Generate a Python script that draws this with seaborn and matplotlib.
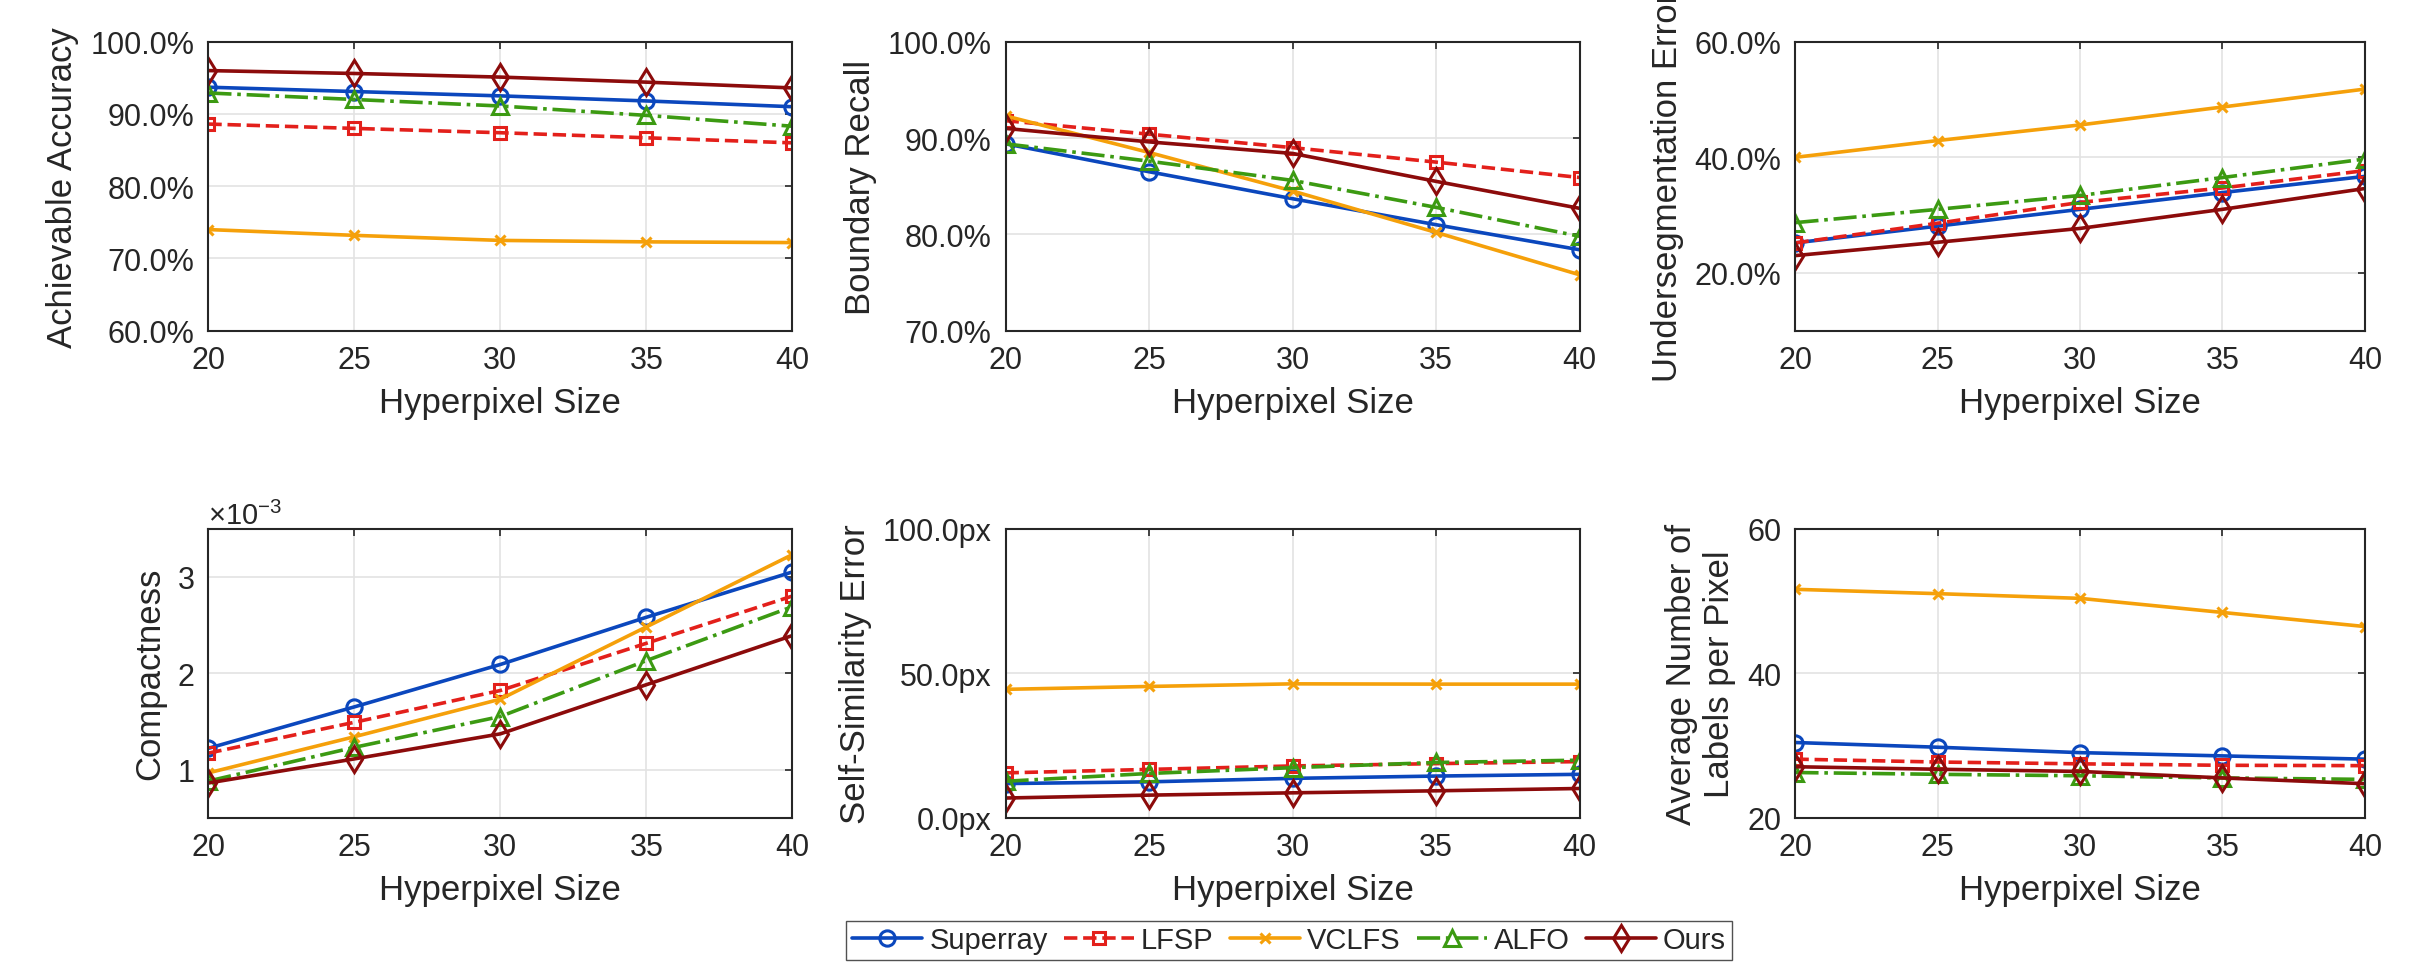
import matplotlib
matplotlib.use("Agg")
import matplotlib.pyplot as plt
from matplotlib.ticker import PercentFormatter, FuncFormatter, ScalarFormatter
import seaborn as sns
import pandas as pd

# hyperpixel sizes on the x axis
sizes = [20, 25, 30, 35, 40]
methods = ["Superray", "LFSP", "VCLFS", "ALFO", "Ours"]

# achievable accuracy (%)
asa_superray = [93.7, 93.1, 92.5, 91.8, 91.0]
asa_lfsp = [88.6, 88.0, 87.4, 86.7, 86.0]
asa_vclfs = [74.0, 73.2, 72.5, 72.3, 72.2]
asa_alfo = [92.9, 92.0, 91.1, 89.8, 88.3]
asa_ours = [96.0, 95.6, 95.1, 94.4, 93.6]

# boundary recall (%)
br_superray = [89.4, 86.5, 83.7, 81.0, 78.4]
br_lfsp = [91.8, 90.4, 89.0, 87.5, 85.9]
br_vclfs = [92.3, 88.5, 84.5, 80.2, 75.8]
br_alfo = [89.4, 87.6, 85.6, 82.8, 79.8]
br_ours = [91.0, 89.6, 88.4, 85.5, 82.7]

# undersegmentation error (%)
ue_superray = [25.2, 28.1, 31.0, 33.9, 36.7]
ue_lfsp = [25.2, 28.6, 32.2, 34.7, 37.7]
ue_vclfs = [40.0, 42.9, 45.6, 48.7, 51.8]
ue_alfo = [28.7, 31.0, 33.4, 36.5, 39.7]
ue_ours = [23.0, 25.3, 27.7, 31.0, 34.6]

# compactness
co_superray = [1.22e-3, 1.65e-3, 2.09e-3, 2.58e-3, 3.05e-3]
co_lfsp = [1.17e-3, 1.49e-3, 1.82e-3, 2.31e-3, 2.80e-3]
co_vclfs = [0.965e-3, 1.34e-3, 1.73e-3, 2.48e-3, 3.23e-3]
co_alfo = [0.88e-3, 1.23e-3, 1.55e-3, 2.13e-3, 2.69e-3]
co_ours = [0.86e-3, 1.11e-3, 1.37e-3, 1.88e-3, 2.39e-3]

# self-similarity error (px)
sse_superray = [11.8, 12.4, 13.6, 14.4, 15.0]
sse_lfsp = [15.5, 16.7, 17.9, 18.7, 19.4]
sse_vclfs = [44.4, 45.4, 46.3, 46.2, 46.2]
sse_alfo = [12.6, 15.3, 17.3, 19.1, 19.9]
sse_ours = [6.8, 7.8, 8.6, 9.3, 10.1]

# average number of labels per pixel
anl_superray = [30.4, 29.75, 29.0, 28.55, 28.1]
anl_lfsp = [28.1, 27.7, 27.45, 27.25, 27.2]
anl_vclfs = [51.6, 51.0, 50.35, 48.4, 46.45]
anl_alfo = [26.25, 26.0, 25.8, 25.5, 25.3]
anl_ours = [27.05, 26.7, 26.4, 25.5, 24.7]

panels = [
    ("Achievable Accuracy", [asa_superray, asa_lfsp, asa_vclfs, asa_alfo, asa_ours], (60, 100), [60, 70, 80, 90, 100], "pct"),
    ("Boundary Recall", [br_superray, br_lfsp, br_vclfs, br_alfo, br_ours], (70, 100), [70, 80, 90, 100], "pct"),
    ("Undersegmentation Error", [ue_superray, ue_lfsp, ue_vclfs, ue_alfo, ue_ours], (10, 60), [20, 40, 60], "pct"),
    ("Compactness", [co_superray, co_lfsp, co_vclfs, co_alfo, co_ours], (0.5e-3, 3.5e-3), [1e-3, 2e-3, 3e-3], "sci"),
    ("Self-Similarity Error", [sse_superray, sse_lfsp, sse_vclfs, sse_alfo, sse_ours], (0, 100), [0, 50, 100], "px"),
    ("Average Number of\nLabels per Pixel", [anl_superray, anl_lfsp, anl_vclfs, anl_alfo, anl_ours], (20, 60), [20, 40, 60], "int"),
]

colors = {"Superray": "#0b47bd", "LFSP": "#e3201b", "VCLFS": "#f5a00a", "ALFO": "#3c9a12", "Ours": "#8c0b0b"}
markers = {"Superray": "o", "LFSP": "s", "VCLFS": "x", "ALFO": "^", "Ours": "d"}
styles = {"Superray": "-", "LFSP": "--", "VCLFS": "-", "ALFO": "-.", "Ours": "-"}
msizes = {"Superray": 11, "LFSP": 8.5, "VCLFS": 7.5, "ALFO": 11.5, "Ours": 13}

sns.set_style("white")
plt.rcParams["font.family"] = ["Liberation Sans", "DejaVu Sans"]
plt.rcParams["mathtext.fontset"] = "custom"
plt.rcParams["mathtext.rm"] = "Liberation Sans"

fig = plt.figure(figsize=(24.23, 9.70), dpi=100)

lefts = [0.086, 0.415, 0.741]
widths = [0.241, 0.237, 0.235]
bottoms = [0.658, 0.156]
height = 0.298

handles = []
for i, (ylabel, series, ylim, yticks, fmt) in enumerate(panels):
    r, c = divmod(i, 3)
    ax = fig.add_axes([lefts[c], bottoms[r], widths[c], height])
    for m, vals in zip(methods, series):
        df = pd.DataFrame({"size": sizes, "value": vals})
        sns.lineplot(data=df, x="size", y="value", ax=ax, color=colors[m],
                     marker=markers[m], linestyle=styles[m], linewidth=2.6,
                     markersize=msizes[m], markerfacecolor="none",
                     markeredgecolor=colors[m], markeredgewidth=2.2)
        if i == 0:
            handles.append(ax.lines[-1])
    ax.set_xlim(20, 40)
    ax.set_xticks(sizes)
    ax.set_ylim(*ylim)
    ax.set_yticks(yticks)
    if fmt == "pct":
        ax.yaxis.set_major_formatter(PercentFormatter(xmax=100, decimals=1))
    elif fmt == "px":
        ax.yaxis.set_major_formatter(FuncFormatter(lambda v, p: f"{v:.1f}px"))
    elif fmt == "sci":
        sf = ScalarFormatter(useMathText=True)
        sf.set_powerlimits((-3, -3))
        ax.yaxis.set_major_formatter(sf)
        ax.yaxis.get_offset_text().set_fontsize(21)
    ax.grid(True, color="#e3e3e3", linewidth=1.2)
    ax.tick_params(axis="both", direction="in", top=True, right=True,
                   length=5, width=1.2, labelsize=22, pad=10, color="#262626")
    for sp in ax.spines.values():
        sp.set_color("#262626")
        sp.set_linewidth(1.5)
    ax.set_xlabel("Hyperpixel Size", fontsize=25, labelpad=8)
    ax.set_ylabel(ylabel, fontsize=25, labelpad=8)

fig.legend(handles, methods, loc="center", bbox_to_anchor=(0.532, 0.0295),
           ncol=5, fontsize=21, frameon=True, fancybox=False, edgecolor="#262626",
           handlelength=2.4, handletextpad=0.25, columnspacing=0.55,
           borderpad=0.2, borderaxespad=0)

fig.savefig("out.png", dpi=100)
